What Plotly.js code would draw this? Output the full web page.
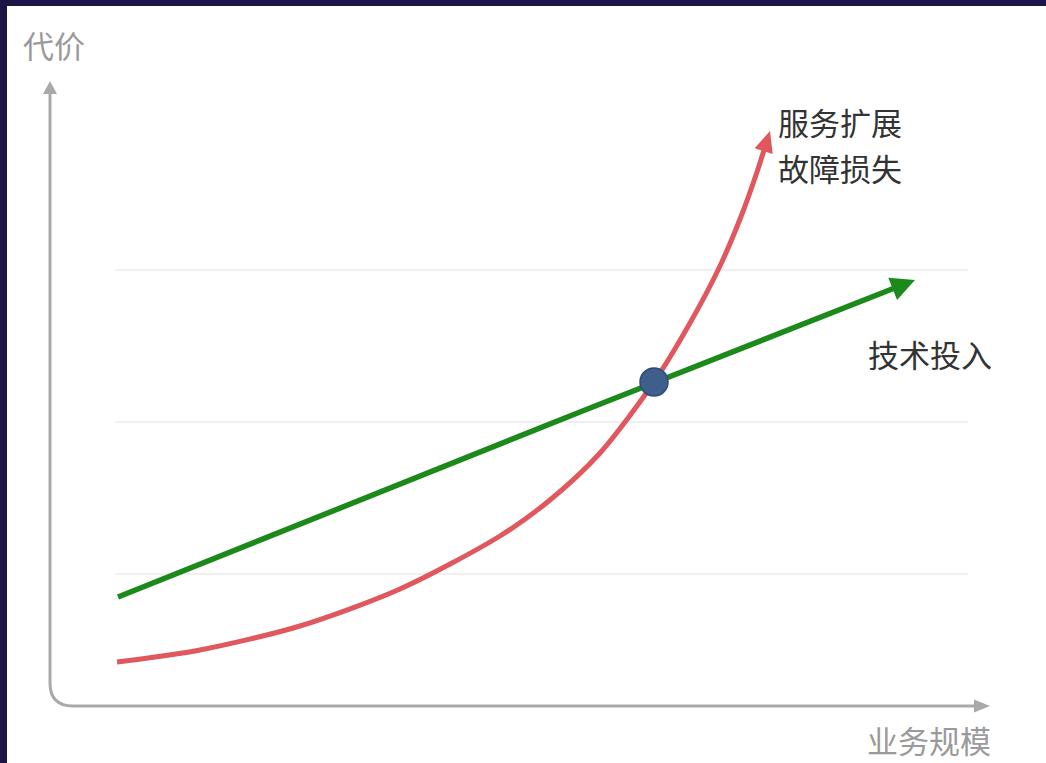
<!DOCTYPE html>
<html>
<head>
<meta charset="utf-8">
<script src="https://cdn.plot.ly/plotly-3.0.1.min.js"></script>
<style>
  html, body { margin: 0; padding: 0; background: #1c1444; }
  #chart { width: 1046px; height: 763px; }
</style>
</head>
<body>
<div id="chart"></div>
<script>
// ---- Data (units: business scale on x, cost on y) ----
const lossLabel = ['服务扩展', '故障损失'];
const investLabel = '技术投入';
const xAxisLabel = '业务规模';
const yAxisLabel = '代价';

// red curve: 服务扩展 故障损失
const lossX = [0.67, 1.50, 2.50, 3.50, 4.50, 5.00, 5.50, 6.04, 6.40, 6.70, 6.92, 7.07, 7.20];
const lossY = [0.44, 0.56, 0.80, 1.17, 1.70, 2.06, 2.53, 3.24, 3.83, 4.40, 4.92, 5.34, 5.75];

// green line: 技术投入
const investX = [0.68, 5.30, 8.65];
const investY = [1.09, 2.94, 4.26];

// crossing point
const crossX = [6.04];
const crossY = [3.24];

// horizontal guide levels
const gridLevels = [1.32, 2.84, 4.36];

// ---- Styling / layout constants ----
const RED = '#e0585d';
const GREEN = '#1b8a1b';
const AXIS = '#a9a9a9';
const FONT = '"Noto Sans CJK SC", "Noto Sans", sans-serif';

const xAxisEnd = 9.40, yAxisEnd = 6.25, cornerR = 0.23;
const gridX0 = 0.65, gridX1 = 9.18;

function arrowHead(xs, ys, L, W, color) {
  const n = xs.length;
  const tx = xs[n - 1], ty = ys[n - 1];
  let dx = tx - xs[n - 2], dy = ty - ys[n - 2];
  const len = Math.hypot(dx, dy); dx /= len; dy /= len;
  const bx = tx - L * dx, by = ty - L * dy;
  const px = -dy, py = dx;
  return {
    shape: {
      type: 'path', xref: 'x', yref: 'y', layer: 'above',
      path: `M${tx},${ty} L${bx + W / 2 * px},${by + W / 2 * py} L${bx - W / 2 * px},${by - W / 2 * py} Z`,
      fillcolor: color, line: { width: 0 }
    },
    lineEnd: [tx - 0.6 * L * dx, ty - 0.6 * L * dy]
  };
}

const redHead = arrowHead(lossX, lossY, 0.21, 0.19, RED);
const greenHead = arrowHead(investX, investY, 0.24, 0.24, GREEN);
const yHead = arrowHead([0, 0], [0, yAxisEnd], 0.13, 0.14, AXIS);
const xHead = arrowHead([0, xAxisEnd], [0, 0], 0.16, 0.13, AXIS);

const redPlotX = lossX.slice(0, -1).concat([redHead.lineEnd[0]]);
const redPlotY = lossY.slice(0, -1).concat([redHead.lineEnd[1]]);
const greenPlotX = investX.slice(0, -1).concat([greenHead.lineEnd[0]]);
const greenPlotY = investY.slice(0, -1).concat([greenHead.lineEnd[1]]);

const traces = [
  {
    x: greenPlotX, y: greenPlotY, mode: 'lines', name: investLabel,
    line: { color: GREEN, width: 5.5 }, hoverinfo: 'skip'
  },
  {
    x: redPlotX, y: redPlotY, mode: 'lines', name: lossLabel.join(''),
    line: { color: RED, width: 5, shape: 'spline', smoothing: 0.8 }, hoverinfo: 'skip'
  },
  {
    x: crossX, y: crossY, mode: 'markers', name: 'cross',
    marker: { size: 28, color: '#3e5f8c', line: { width: 1.5, color: '#2f4b73' } }, hoverinfo: 'skip'
  }
];

const shapes = [];
gridLevels.forEach(v => shapes.push({
  type: 'line', xref: 'x', yref: 'y', layer: 'below',
  x0: gridX0, x1: gridX1, y0: v, y1: v,
  line: { color: '#ebebeb', width: 1.5 }
}));
shapes.push({
  type: 'path', xref: 'x', yref: 'y', layer: 'below',
  path: `M0,${yAxisEnd - 0.1} L0,${cornerR} Q0,0 ${cornerR},0 L${xAxisEnd - 0.1},0`,
  line: { color: AXIS, width: 3 }
});
shapes.push(yHead.shape, xHead.shape, redHead.shape, greenHead.shape);

function label(text, x, y, color) {
  return {
    text: text, x: x, y: y, xref: 'x', yref: 'y',
    xanchor: 'left', yanchor: 'middle', showarrow: false,
    font: { family: FONT, size: 31, color: color }
  };
}

const annotations = [
  label(yAxisLabel, -0.29, 6.62, '#9a9a9a'),
  label(xAxisLabel, 8.15, -0.33, '#9a9a9a'),
  label(lossLabel[0], 7.26, 5.85, '#333333'),
  label(lossLabel[1], 7.26, 5.39, '#333333'),
  label(investLabel, 8.16, 3.53, '#333333')
];

const layout = {
  width: 1046, height: 763,
  margin: { l: 7, r: 0, t: 6, b: 0, pad: 0 },
  paper_bgcolor: '#1c1444',
  plot_bgcolor: '#ffffff',
  showlegend: false,
  hovermode: false,
  xaxis: { range: [-0.43, 9.96], showgrid: false, zeroline: false, showticklabels: false, showline: false, ticks: '', fixedrange: true },
  yaxis: { range: [-0.57, 7.00], showgrid: false, zeroline: false, showticklabels: false, showline: false, ticks: '', fixedrange: true },
  shapes: shapes,
  annotations: annotations
};

Plotly.newPlot('chart', traces, layout, { staticPlot: true, displayModeBar: false });
</script>
</body>
</html>
